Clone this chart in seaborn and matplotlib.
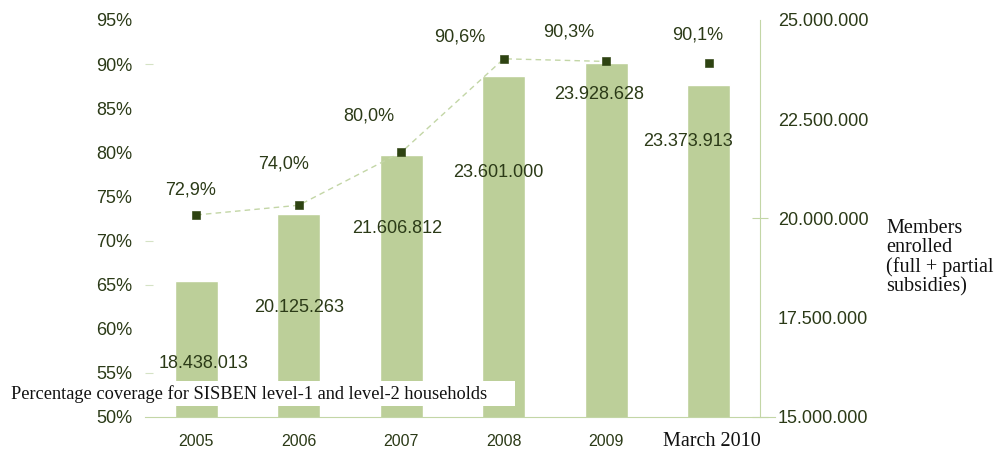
import numpy as np
import pandas as pd
import matplotlib
matplotlib.use("Agg")
import matplotlib.pyplot as plt
from matplotlib.patches import Rectangle
import seaborn as sns

# values
periods = ["2005", "2006", "2007", "2008", "2009", "March 2010"]
members = [18438013, 20125263, 21606812, 23601000, 23928628, 23373913]
coverage = [72.9, 74.0, 80.0, 90.6, 90.3, 90.1]
member_labels = ["18.438.013", "20.125.263", "21.606.812", "23.601.000", "23.928.628", "23.373.913"]
coverage_labels = ["72,9%", "74,0%", "80,0%", "90,6%", "90,3%", "90,1%"]
pct_ticks = [50, 55, 60, 65, 70, 75, 80, 85, 90, 95]
member_ticks = [15000000, 17500000, 20000000, 22500000, 25000000]

# label nudges in points (dx, dy)
member_offsets = [(5, -60), (0, -68), (-3, -53), (-4, -70), (-5, -23), (-15, -41)]
coverage_offsets = [(-4, 18), (-11, 30), (-23, 26), (-32, 16), (-27, 21), (-8, 20)]

BAR = "#bccf99"
DARK = "#2b3a17"
MARK = "#2e4312"
PALE = "#c3d6a6"
SERIF = ["Liberation Serif", "DejaVu Serif"]

sns.set_style("white")
plt.rcParams["font.family"] = ["Liberation Sans", "DejaVu Sans"]

df = pd.DataFrame({"period": periods, "members": members, "coverage": coverage})
pos = np.arange(len(periods))

fig = plt.figure(figsize=(10.04, 4.54), dpi=100)
ax = fig.add_axes([0.1444, 0.0815, 0.6126, 0.8745])
ax2 = ax.twinx()

sns.barplot(data=df, x="period", y="members", ax=ax2, color=BAR, saturation=1, width=0.42)
ax2.set_ylim(15000000, 25000000)
ax2.set_yticks(member_ticks)
ax2.set_yticklabels([f"{v:,}".replace(",", ".") for v in member_ticks])
ax2.set_ylabel("")
ax2.set_xlabel("")

# coverage line (first five joined) and square markers
sns.lineplot(x=pos[:5], y=coverage[:5], ax=ax, color=PALE, lw=1, ls=(0, (4, 3)))
sns.scatterplot(x=pos, y=coverage, ax=ax, marker="s", s=30, color=MARK, edgecolor=MARK, zorder=5)
ax.set_ylim(50, 95)
ax.set_yticks(pct_ticks)
ax.set_yticklabels([f"{v}%" for v in pct_ticks])
ax.set_xlim(-0.5, 5.5)
ax.set_zorder(ax2.get_zorder() + 1)
ax.patch.set_visible(False)

for i, (lab, off) in enumerate(zip(member_labels, member_offsets)):
    ax2.annotate(lab, (pos[i], members[i]), xytext=off, textcoords="offset points",
                 ha="center", va="center", fontsize=13, color=DARK)
for i, (lab, off) in enumerate(zip(coverage_labels, coverage_offsets)):
    ax.annotate(lab, (pos[i], coverage[i]), xytext=off, textcoords="offset points",
                ha="center", va="center", fontsize=13, color=DARK)

# spines and ticks
for a in (ax, ax2):
    for s in a.spines.values():
        s.set_visible(False)
ax2.spines["right"].set_visible(True)
ax2.spines["right"].set_color(PALE)
ax2.spines["bottom"].set_visible(True)
ax2.spines["bottom"].set_color(PALE)
ax2.spines["bottom"].set_bounds(-0.5, 5.65)
ax.tick_params(axis="y", direction="in", length=6, color="#d5e2c5", pad=9,
               labelsize=13, labelcolor=DARK, left=True)
ax2.tick_params(axis="y", direction="inout", length=12, color=PALE, pad=7,
                labelsize=13, labelcolor=DARK, right=True)
# only some tick marks show in the source
for v, t in zip(pct_ticks, ax.yaxis.get_major_ticks()):
    t.tick1line.set_visible(v in (55, 65, 70, 90))
for v, t in zip(member_ticks, ax2.yaxis.get_major_ticks()):
    t.tick2line.set_visible(v in (15000000, 20000000))

ax.set_xticks(pos)
ax.set_xticklabels(periods[:-1] + [""])
ax.tick_params(axis="x", length=0, pad=12, labelsize=11.5, labelcolor=DARK)
ax2.tick_params(axis="x", length=0)
ax.set_xticks([4.5, 5.5], minor=True)
ax.tick_params(axis="x", which="minor", direction="out", length=6, color=PALE)

# serif captions pasted over the chart
fig.text(712 / 1004, 1 - 441 / 454, periods[-1], ha="center", va="center",
         fontsize=14.5, color="#111111", family=SERIF)
fig.add_artist(Rectangle((5 / 1004, 1 - 406 / 454), 510 / 1004, 25 / 454,
                         transform=fig.transFigure, facecolor="white", edgecolor="none"))
fig.text(11 / 1004, 1 - 394 / 454, "Percentage coverage for SISBEN level-1 and level-2 households",
         ha="left", va="center", fontsize=13.2, color="#111111", family=SERIF, zorder=3)
fig.text(886 / 1004, 1 - 258 / 454, "Members\nenrolled\n(full + partial\nsubsidies)",
         ha="left", va="center", fontsize=14.5, color="#111111", linespacing=1.0,
         family=SERIF)

fig.savefig("out.png", dpi=100)
